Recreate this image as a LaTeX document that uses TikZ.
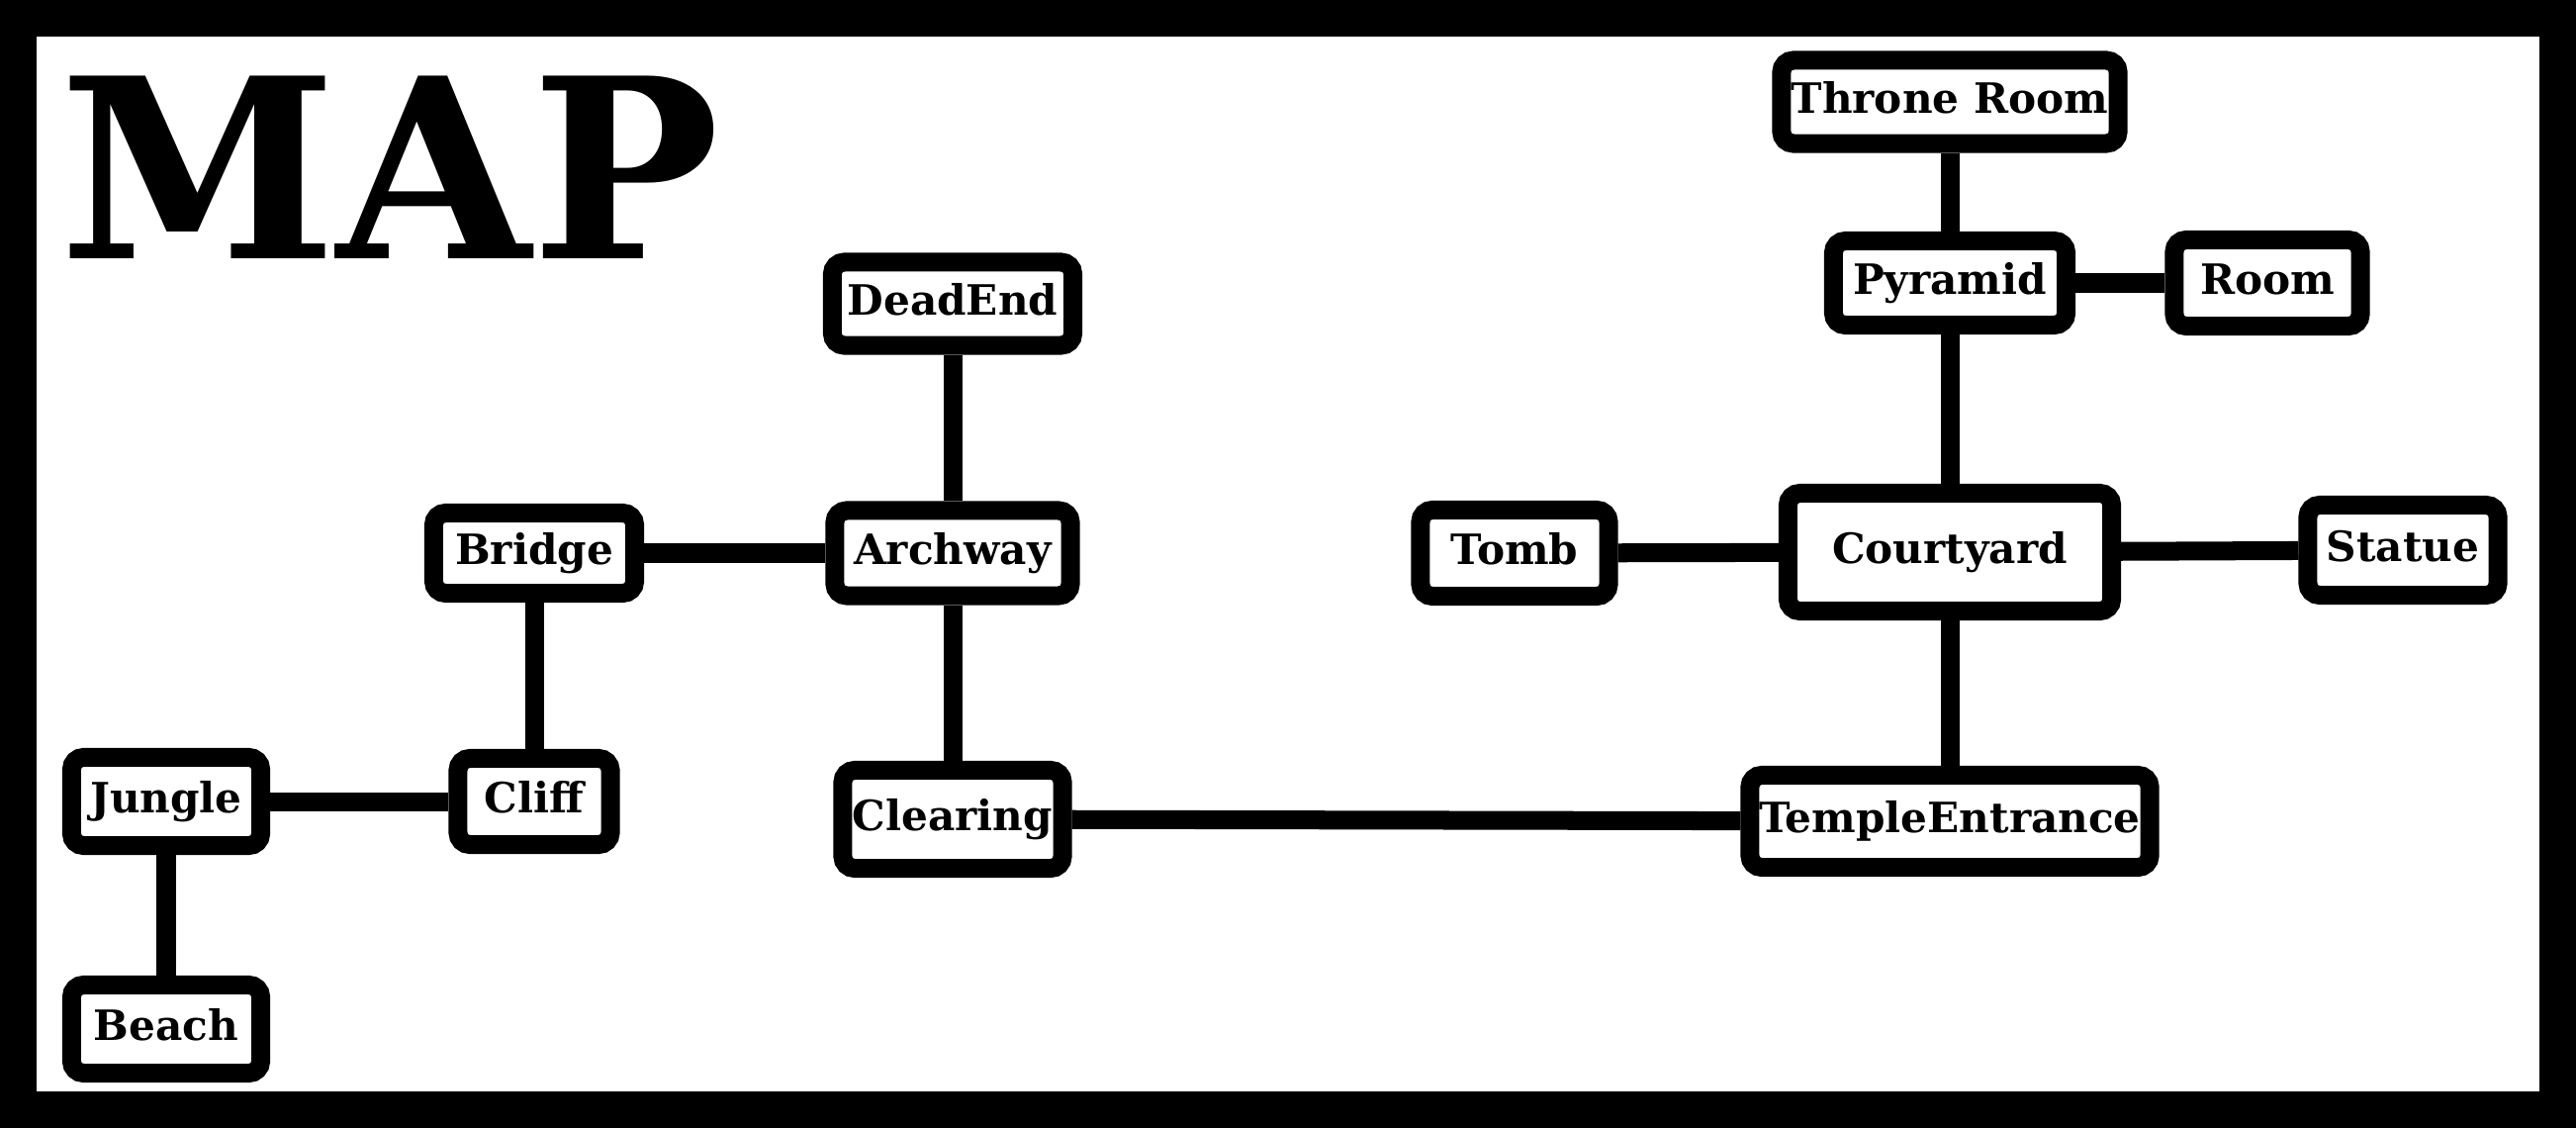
\documentclass[tikz,border=0pt]{standalone}
\usepackage{fontspec}
\setmainfont{DejaVu Serif}
\begin{document}
\begin{tikzpicture}[x=0.01cm,y=-0.01cm,
    place/.style={draw, line width=0.19cm, rounded corners=0.12cm, fill=white, inner xsep=0.02cm,
      text height=0.31cm, text depth=0.08cm, font=\fontsize{12pt}{12pt}\selectfont\bfseries},
    link/.style={line width=0.19cm}]
    \fill (0,0) rectangle (2604,1140);
    \fill[white] (37,37) rectangle (2567,1103);
    \node[anchor=base west, inner sep=0pt, font=\fontsize{72pt}{72pt}\selectfont\bfseries] (title) at (60,262) {MAP};
    \node[place, minimum width=3.40cm, minimum height=0.84cm] (throne) at (1971,103) {Throne Room};
    \node[place, minimum width=2.35cm, minimum height=0.85cm] (pyramid) at (1971,286) {Pyramid};
    \node[place, minimum width=1.88cm, minimum height=0.87cm] (room) at (2292,286) {Room};
    \node[place, minimum width=2.43cm, minimum height=0.84cm] (deadend) at (963,307) {DeadEnd};
    \node[place, minimum width=2.03cm, minimum height=0.81cm] (bridge) at (540,559) {Bridge};
    \node[place, minimum width=2.38cm, minimum height=0.86cm] (archway) at (963,559) {Archway};
    \node[place, minimum width=1.90cm, minimum height=0.87cm] (tomb) at (1531,559) {Tomb};
    \node[place, minimum width=3.27cm, minimum height=1.19cm] (courtyard) at (1971,558) {Courtyard};
    \node[place, minimum width=1.92cm, minimum height=0.91cm] (statue) at (2429,556) {Statue};
    \node[place, minimum width=1.91cm, minimum height=0.89cm] (jungle) at (168,810) {Jungle};
    \node[place, minimum width=1.54cm, minimum height=0.87cm] (cliff) at (540,810) {Cliff};
    \node[place, minimum width=2.22cm, minimum height=0.99cm] (clearing) at (963,828) {Clearing};
    \node[place, minimum width=4.04cm, minimum height=0.93cm] (temple) at (1971,830) {TempleEntrance};
    \node[place, minimum width=1.91cm, minimum height=0.89cm] (beach) at (168,1040) {Beach};
    \draw[link] (throne) -- (pyramid);
    \draw[link] (pyramid) -- (room);
    \draw[link] (pyramid) -- (courtyard);
    \draw[link] (tomb) -- (courtyard);
    \draw[link] (courtyard) -- (statue);
    \draw[link] (courtyard) -- (temple);
    \draw[link] (clearing) -- (temple);
    \draw[link] (deadend) -- (archway);
    \draw[link] (bridge) -- (archway);
    \draw[link] (archway) -- (clearing);
    \draw[link] (bridge) -- (cliff);
    \draw[link] (jungle) -- (cliff);
    \draw[link] (jungle) -- (beach);
\end{tikzpicture}
\end{document}
